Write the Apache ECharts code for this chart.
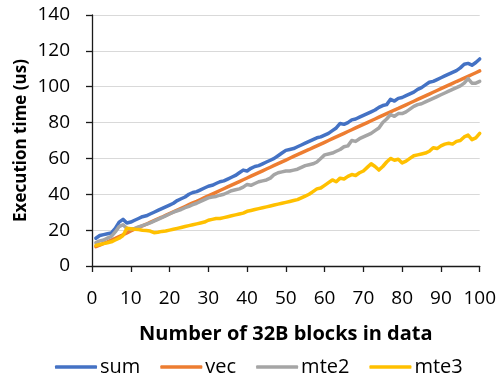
<!DOCTYPE html>
<html>
<head>
<meta charset="utf-8">
<script src="https://cdn.jsdelivr.net/npm/echarts@6/dist/echarts.min.js"></script>
<style>
html,body{margin:0;padding:0;background:#fff;}
#chart{width:499px;height:378px;}
</style>
</head>
<body>
<div id="chart"></div>
<script>
const xValues = Array.from({length: 100}, (_, i) => i + 1);
const seriesNames = ['sum', 'vec', 'mte2', 'mte3'];
const sumValues = [
  15.5,17,17.5,18,18.5,21,24.5,26,24,24.5,
  25.5,26.5,27.5,28,29,30,31,32,33,34,
  35,36.5,37.5,38.5,40,41,41.5,42.5,43.5,44.5,
  45,46,47,47.5,48.5,49.5,50.5,52,53.5,53,
  54.5,55.5,56,57,58,59,60,61.5,63,64.5,
  65,65.5,66.5,67.5,68.5,69.5,70.5,71.5,72,73,
  74,75.5,77,79.5,79,80,81.5,82,83,84,
  85,86,87,88.5,89.5,90,93,92,93.5,94,
  95,96,97,98.5,99.5,101,102.5,103,104,105,
  106,107,108,109,110.5,112.5,113,112,113.5,115.5
];
const vecValues = [
  10.8,11.6,12.6,13.5,14.5,15.4,16.4,17.4,18.5,19.6,
  20.5,21.5,22.4,23.3,24.3,25.3,26.3,27.2,28.2,29.2,
  30.2,31.2,32.2,33.2,34.2,35.2,36.1,37.1,38.1,39.1,
  40.1,41.1,42.1,43.1,44.1,45.1,46.1,47.1,48.1,49.1,
  50.1,51.1,52.1,53.1,54.1,55.1,56.1,57.1,58.1,59.1,
  60.1,61.1,62.1,63.1,64.1,65.0,66.0,67.0,68.0,69.0,
  70.0,71.0,72.0,73.0,74.0,75.0,76.0,77.0,78.0,79.0,
  80.0,81.0,82.0,83.0,84.0,85.0,86.0,87.0,87.9,88.9,
  89.9,90.9,91.9,92.9,93.9,94.9,95.9,96.9,97.9,98.9,
  99.9,100.9,101.9,102.9,103.8,104.8,105.8,106.8,107.8,108.8
];
const mte2Values = [
  13,14,14.5,15.5,16.5,19,22,23,21,20.5,
  21,21.8,22.5,23.2,24,25,26,27,28,29,
  30,30.8,31.5,32.5,33.3,34.2,35,36,37,38,
  38.5,38.8,39.5,40,41,42,42.5,43,44,45.5,
  45,46,47,47.5,48,49,51,52,52.5,53,
  53,53.5,54,55,56,56.5,57,58,60,62,
  62.5,63,64,65,66.5,67,70,69.5,71,72,
  73,74,75.5,77,80,82,84.5,83.5,85,85,
  86,87.5,89,90,90.5,91.5,92.5,93.5,94.5,95.5,
  96.5,97.5,98.5,99.5,100.5,102,104.5,102,102,103
];
const mte3Values = [
  11.5,12,12.5,13,13.5,14.5,15.5,17,21,20.8,
  20.5,20.3,20,19.8,19.5,18.6,18.8,19.3,19.5,20,
  20.5,21,21.5,22,22.5,23,23.5,24,24.5,25.5,
  26,26.5,26.5,27,27.5,28,28.5,29,29.5,30.5,
  31,31.5,32,32.5,33,33.5,34,34.5,35,35.5,
  36,36.5,37,38,39,40,41.5,43,43.5,45,
  46.5,48,47,49,48.5,50,51,50.5,52,53,
  55,57,55.5,53.5,55.5,58,60,59,59.5,57.5,
  58.5,60,61.5,62,62.5,63,64,66,65.5,67,
  68,68.5,68,69.5,70,72,73,70.5,71.5,74
];
const xTicks = [0,10,20,30,40,50,60,70,80,90,100];
const yTicks = [0,20,40,60,80,100,120,140];

const colors = ['#4472C4', '#ED7D31', '#A5A5A5', '#FFC000'];
const allValues = [sumValues, vecValues, mte2Values, mte3Values];
const FONT = '"Open Sans", sans-serif';

const chart = echarts.init(document.getElementById('chart'), null, {renderer: 'canvas'});
chart.setOption({
  animation: false,
  backgroundColor: '#fff',
  color: colors,
  grid: {left: 92, right: 18, top: 15, bottom: 112, containLabel: false},
  xAxis: {
    type: 'value',
    min: xTicks[0], max: xTicks[xTicks.length - 1], interval: 10,
    name: 'Number of 32B blocks in data',
    nameLocation: 'middle', nameGap: 58, nameMoveOverlap: false,
    nameTextStyle: {fontFamily: FONT, fontWeight: 'bold', fontSize: 20, color: '#000'},
    axisLine: {show: true, lineStyle: {color: '#1a1a1a', width: 1.3}},
    axisTick: {show: true, length: 6, lineStyle: {color: '#1a1a1a', width: 1.3}},
    axisLabel: {fontFamily: FONT, fontSize: 19, color: '#000', margin: 23},
    splitLine: {show: false}
  },
  yAxis: {
    type: 'value',
    min: yTicks[0], max: yTicks[yTicks.length - 1], interval: 20,
    name: 'Execution time (us)',
    nameLocation: 'middle', nameGap: 62, nameMoveOverlap: false,
    nameTextStyle: {fontFamily: FONT, fontWeight: 'bold', fontSize: 17, color: '#000'},
    axisLine: {show: true, lineStyle: {color: '#1a1a1a', width: 1.3}},
    axisTick: {show: true, length: 6, lineStyle: {color: '#1a1a1a', width: 1.3}},
    axisLabel: {fontFamily: FONT, fontSize: 19, color: '#000', margin: 22},
    splitLine: {show: true, lineStyle: {color: '#d9d9d9', width: 1}}
  },
  legend: {
    data: seriesNames,
    left: 50, top: 352,
    icon: 'roundRect',
    itemWidth: 42, itemHeight: 3.5,
    itemGap: 20,
    textStyle: {fontFamily: FONT, fontSize: 20, color: '#000', padding: [0,0,0,-2]}
  },
  series: seriesNames.map((name, i) => ({
    name: name,
    type: 'line',
    data: xValues.map((x, j) => [x, allValues[i][j]]),
    showSymbol: false,
    symbol: 'none',
    z: 2 + i,
    lineStyle: {width: 3.5, color: colors[i], cap: 'round', join: 'round'},
    itemStyle: {color: colors[i]}
  }))
});
</script>
</body>
</html>
